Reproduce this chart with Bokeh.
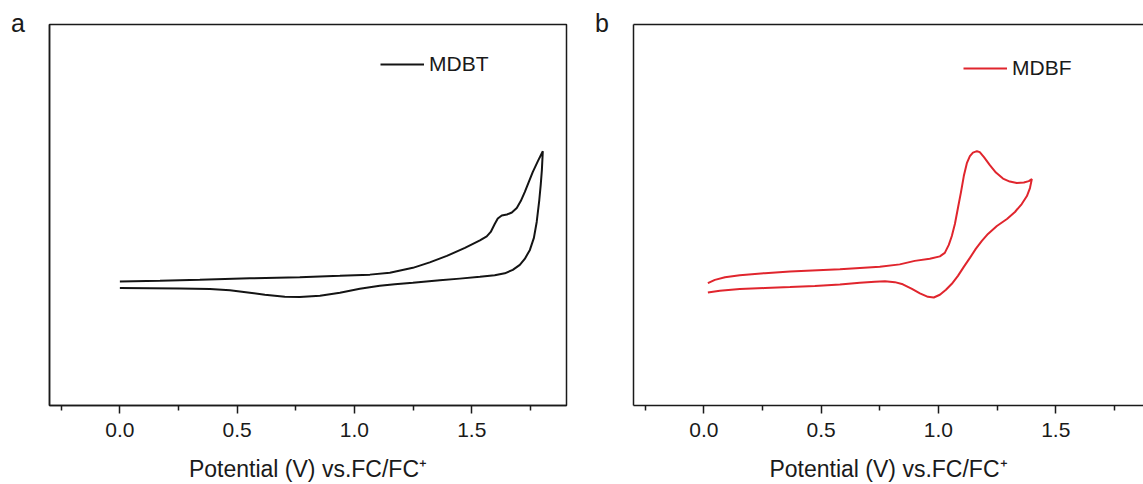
from bokeh.plotting import figure
from bokeh.layouts import row
from bokeh.models import (FixedTicker, PrintfTickFormatter, LinearAxis, Legend,
                          LegendItem, Range1d, Div)
from bokeh.embed import file_html
from bokeh.resources import INLINE

# ---- data (current in arbitrary units) ----
mdbt_potential = [0.000, 0.171, 0.341, 0.554, 0.767, 0.938, 1.066, 1.151, 1.249, 1.321,
                  1.394, 1.471, 1.535, 1.564, 1.581, 1.598, 1.611, 1.628, 1.650, 1.671,
                  1.692, 1.709, 1.726, 1.743, 1.760, 1.782, 1.803,
                  1.799, 1.794, 1.788, 1.777, 1.765, 1.748, 1.726, 1.705, 1.675, 1.641,
                  1.598, 1.535, 1.449, 1.364, 1.249, 1.172, 1.108, 1.023, 0.938, 0.853,
                  0.767, 0.703, 0.618, 0.554, 0.469, 0.384, 0.256, 0.128, 0.000]
mdbt_current = [32.54, 32.72, 32.98, 33.38, 33.69, 34.03, 34.35, 34.82, 36.13, 37.57,
                39.27, 41.36, 43.32, 44.37, 45.55, 47.64, 49.08, 49.87, 50.13, 50.65,
                51.83, 53.66, 56.02, 58.64, 61.26, 64.14, 66.75,
                61.78, 57.85, 53.93, 48.17, 43.98, 40.84, 38.48, 36.91, 35.60, 34.69,
                34.16, 33.77, 33.30, 32.85, 32.20, 31.81, 31.41, 30.63, 29.58, 28.80,
                28.46, 28.53, 29.06, 29.58, 30.24, 30.55, 30.68, 30.76, 30.81]

mdbf_potential = [0.017, 0.047, 0.090, 0.153, 0.260, 0.367, 0.580, 0.750, 0.835, 0.899,
                  0.963, 1.006, 1.027, 1.044, 1.057, 1.070, 1.083, 1.096, 1.108, 1.121,
                  1.134, 1.147, 1.164, 1.176, 1.194, 1.219, 1.245, 1.275, 1.304, 1.334,
                  1.364, 1.385, 1.398,
                  1.390, 1.377, 1.355, 1.326, 1.292, 1.249, 1.211, 1.185, 1.159, 1.134,
                  1.108, 1.083, 1.057, 1.032, 1.006, 0.980, 0.955, 0.921, 0.887, 0.848,
                  0.814, 0.772, 0.729, 0.665, 0.580, 0.473, 0.367, 0.260, 0.153, 0.068, 0.017]
mdbf_current = [32.12, 32.98, 33.64, 34.21, 34.74, 35.16, 35.79, 36.39, 37.04, 37.96,
                38.53, 39.14, 40.05, 42.15, 44.50, 47.64, 51.83, 56.02, 60.21, 63.61,
                65.45, 66.36, 66.75, 66.49, 65.18, 63.09, 61.13, 59.55, 58.77, 58.38,
                58.51, 58.90, 59.42,
                57.07, 54.97, 52.88, 50.79, 48.95, 47.12, 45.03, 43.19, 41.10, 38.74,
                36.39, 34.03, 31.94, 30.37, 29.06, 28.35, 28.53, 29.45, 30.63, 31.81,
                32.38, 32.59, 32.51, 32.20, 31.73, 31.36, 31.07, 30.84, 30.55, 30.10, 29.66]

major_ticks = [0.0, 0.5, 1.0, 1.5]
minor_ticks = [-0.25, 0.25, 0.75, 1.25, 1.75]
x_label = "Potential (V) vs.FC/FC\u207a"
panel_letters = ["a", "b"]

FONT = "Liberation Sans"
INK = "#1a1a1a"
H = 484


def bare_axis(ax):
    ax.ticker = FixedTicker(ticks=[], minor_ticks=[])
    ax.major_tick_out = 0
    ax.major_tick_in = 0
    ax.minor_tick_out = 0
    ax.minor_tick_in = 0
    ax.major_label_standoff = 0
    ax.axis_line_color = INK
    ax.axis_line_width = 1.5


def letter_div(letter, width, pad_left):
    html = ('<div style="margin:0;padding:9px 0 0 %dpx;font-size:25px;'
            'font-family:\'Liberation Sans\',Arial,sans-serif;line-height:1.15;'
            'color:%s">%s</div>') % (pad_left, INK, letter)
    return Div(text=html, width=width, height=H, margin=0)


def make_panel(xs, ys, color, name, width, x_end, border_left, border_right,
               full_box, legend_xy):
    p = figure(width=width, height=H, output_backend="svg", toolbar_location=None,
               x_range=Range1d(-0.3, x_end), y_range=Range1d(0, 100),
               min_border_left=border_left, min_border_right=border_right,
               min_border_top=24, min_border_bottom=78)
    p.grid.visible = False
    if full_box:
        p.outline_line_color = INK
        p.outline_line_width = 1.5
        p.outline_line_alpha = 1.0
    else:
        p.outline_line_color = None

    xa = p.xaxis[0]
    xa.ticker = FixedTicker(ticks=major_ticks, minor_ticks=minor_ticks)
    xa.formatter = PrintfTickFormatter(format="%.1f")
    xa.axis_line_color = INK
    xa.axis_line_width = 1.5
    xa.major_tick_line_color = INK
    xa.major_tick_line_width = 1.5
    xa.minor_tick_line_color = INK
    xa.minor_tick_line_width = 1.5
    xa.major_tick_in = 0
    xa.major_tick_out = 8
    xa.minor_tick_in = 0
    xa.minor_tick_out = 5
    xa.major_label_text_font = FONT
    xa.major_label_text_font_size = "21px"
    xa.major_label_text_color = INK
    xa.major_label_standoff = 9
    xa.axis_label = x_label
    xa.axis_label_text_font = FONT
    xa.axis_label_text_font_size = "23px"
    xa.axis_label_text_font_style = "normal"
    xa.axis_label_text_color = INK
    xa.axis_label_standoff = 16

    bare_axis(p.yaxis[0])
    if not full_box:
        top = LinearAxis()
        bare_axis(top)
        p.add_layout(top, "above")

    r = p.line(xs, ys, line_color=color, line_width=2.0)

    legend = Legend(items=[LegendItem(label=name, renderers=[r])],
                    location=legend_xy, background_fill_alpha=0, border_line_color=None,
                    padding=0, margin=0, glyph_width=44, glyph_height=24, label_height=24,
                    label_standoff=5, label_text_font=FONT, label_text_font_size="21px",
                    label_text_color=INK)
    p.add_layout(legend)
    return p


fa = letter_div(panel_letters[0], 30, 11)
pa = make_panel(mdbt_potential, mdbt_current, "#141414", "MDBT",
                width=556, x_end=1.904, border_left=19, border_right=20,
                full_box=True, legend_xy=(331, 329))
fb = letter_div(panel_letters[1], 34, 9)
pb = make_panel(mdbf_potential, mdbf_current, "#e0252d", "MDBF",
                width=523, x_end=1.874, border_left=13, border_right=0,
                full_box=False, legend_xy=(330, 325))

layout = row(fa, pa, fb, pb, spacing=0)
open("out.html", "w").write(file_html(layout, INLINE))
